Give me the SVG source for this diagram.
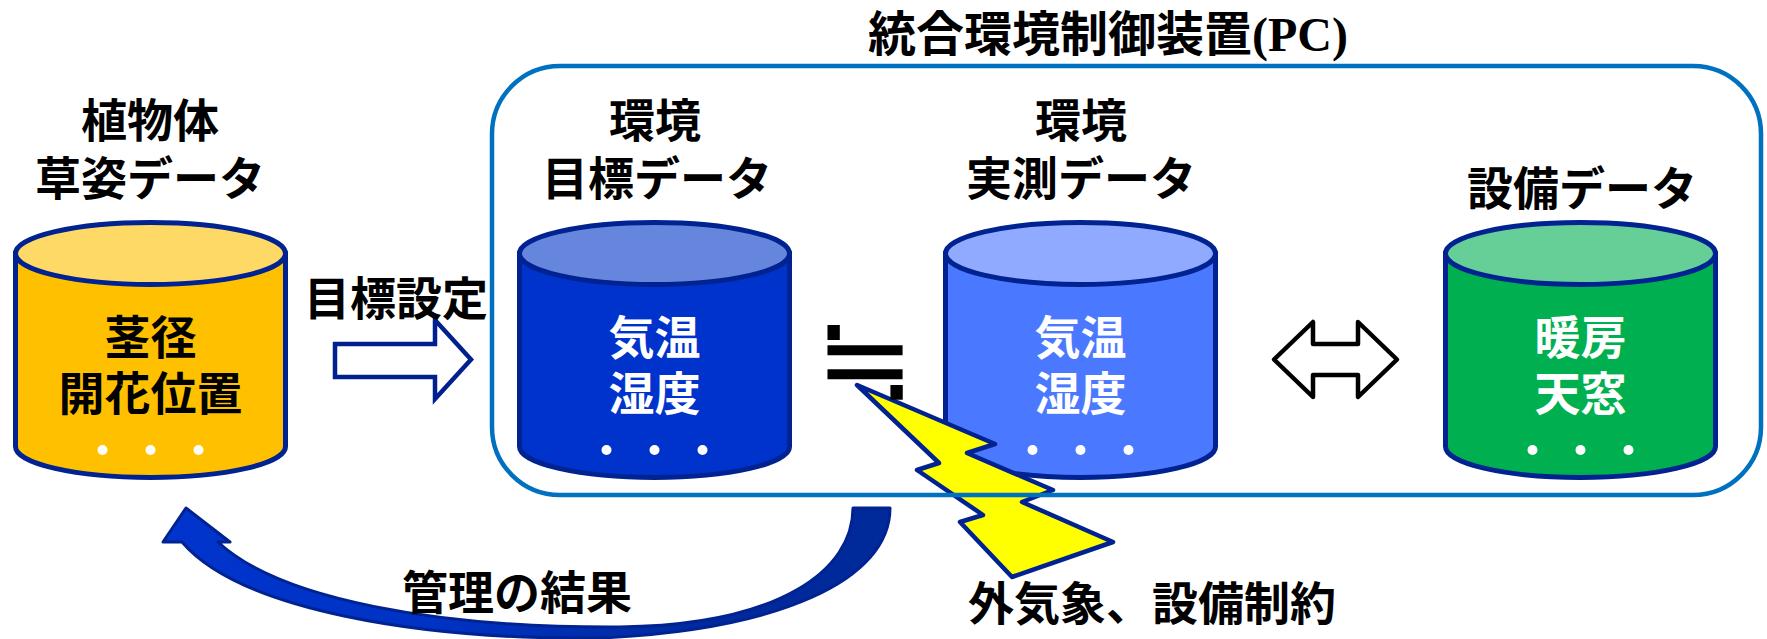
<svg xmlns="http://www.w3.org/2000/svg" width="1767" height="639" viewBox="0 0 1767 639">
<style>
.lbl{font-family:"Noto Sans CJK JP","Noto Sans CJK SC",sans-serif;font-weight:700;font-size:46px;fill:#000;text-anchor:middle}
.in{font-family:"Noto Sans CJK JP","Noto Sans CJK SC",sans-serif;font-weight:700;font-size:46px;text-anchor:middle}
.w{fill:#fff;font-weight:700}
.k{fill:#000}
.cyl{stroke:#002391;stroke-width:5}
.dot{fill:#fff}
</style>
<defs>
<linearGradient id="cg" gradientUnits="userSpaceOnUse" x1="180" y1="0" x2="890" y2="0">
<stop offset="0" stop-color="#0034cc"/>
<stop offset="0.35" stop-color="#0032c4"/>
<stop offset="0.75" stop-color="#002a9c"/>
<stop offset="1" stop-color="#002a9a"/>
</linearGradient>
<path id="body" d="M-135,253.5 V446.5 A135,31 0 0 0 135,446.5 V253.5 Z"/>
</defs>
<rect width="1767" height="639" fill="#fff"/>

<text class="lbl" x="868" y="51" style="text-anchor:start;font-size:48px">統合環境制御装置<tspan style="font-family:'Liberation Serif',serif;font-weight:700">(PC)</tspan></text>

<g id="plant">
<text class="lbl" x="150" y="137">植物体</text>
<text class="lbl" x="150" y="195">草姿データ</text>
<g transform="translate(150.5,0)">
<use href="#body" class="cyl" fill="#ffc000"/>
<ellipse cx="0" cy="253.5" rx="135" ry="31" class="cyl" fill="#ffd966"/>
<text class="in k" x="0" y="354">茎径</text>
<text class="in k" x="0" y="410">開花位置</text>
<circle class="dot" cx="-48" cy="450" r="5"/><circle class="dot" cx="0" cy="450" r="5"/><circle class="dot" cx="48" cy="450" r="5"/>
</g>
</g>

<g id="target">
<text class="lbl" x="655" y="137">環境</text>
<text class="lbl" x="657" y="195">目標データ</text>
<g transform="translate(654.5,0)">
<use href="#body" class="cyl" fill="#0033cc"/>
<ellipse cx="0" cy="253.5" rx="135" ry="31" class="cyl" fill="#6685dd"/>
<text class="in w" x="0" y="354">気温</text>
<text class="in w" x="0" y="410">湿度</text>
<circle class="dot" cx="-48" cy="450" r="5"/><circle class="dot" cx="0" cy="450" r="5"/><circle class="dot" cx="48" cy="450" r="5"/>
</g>
</g>

<g id="measured">
<text class="lbl" x="1081" y="137">環境</text>
<text class="lbl" x="1081" y="195">実測データ</text>
<g transform="translate(1080.5,0)">
<use href="#body" class="cyl" fill="#4a78ff"/>
<ellipse cx="0" cy="253.5" rx="135" ry="31" class="cyl" fill="#90aaff"/>
<text class="in w" x="0" y="354">気温</text>
<text class="in w" x="0" y="410">湿度</text>
<circle class="dot" cx="-48" cy="450" r="5"/><circle class="dot" cx="0" cy="450" r="5"/><circle class="dot" cx="48" cy="450" r="5"/>
</g>
</g>

<g id="equipment">
<text class="lbl" x="1582" y="205">設備データ</text>
<g transform="translate(1580.5,0)">
<use href="#body" class="cyl" fill="#00b050"/>
<ellipse cx="0" cy="253.5" rx="135" ry="31" class="cyl" fill="#66cf98"/>
<text class="in w" x="0" y="354">暖房</text>
<text class="in w" x="0" y="410">天窓</text>
<circle class="dot" cx="-48" cy="450" r="5"/><circle class="dot" cx="0" cy="450" r="5"/><circle class="dot" cx="48" cy="450" r="5"/>
</g>
</g>

<g id="connectors">
<polygon points="335,344 435,344 435,320 471,359.5 435,399 435,377 335,377" fill="#fff" stroke="#00208f" stroke-width="4.5"/>
<text class="lbl" x="396" y="315">目標設定</text>
<polygon points="1274,359.5 1313,322 1313,344 1358,344 1358,322 1397,359.5 1358,397 1358,375 1313,375 1313,397" fill="#fff" stroke="#000" stroke-width="4.5" stroke-linejoin="round"/>
<path d="M853,508 L890,508 C890,580 780,630 600,638 C420,640 240,610 182,542 L163,542 L186,508 L230,542 L218,542 C280,600 440,628 620,627 C780,625 853,570 853,508 Z" fill="url(#cg)" stroke="#002391" stroke-width="3" stroke-linejoin="round"/>
<text class="lbl" x="517" y="609">管理の結果</text>
</g>

<g id="disturbance">
<polygon points="857,385 995,444 967,453 1053,490 1022,502 1113,542 1012,577 960,522 983,515 917,470 939,463" fill="#ffff00" stroke="#002391" stroke-width="4.5" stroke-linejoin="round"/>
<text class="lbl" x="1152" y="620">外気象、設備制約</text>
</g>

<g id="pc">
<rect x="492" y="66" width="1269" height="429" rx="68" ry="68" fill="none" stroke="#0070c0" stroke-width="4.5"/>
</g>

<text x="865" y="400" style="font-family:'DejaVu Sans',sans-serif;font-size:120px;text-anchor:middle;fill:#000">≒</text>
</svg>
